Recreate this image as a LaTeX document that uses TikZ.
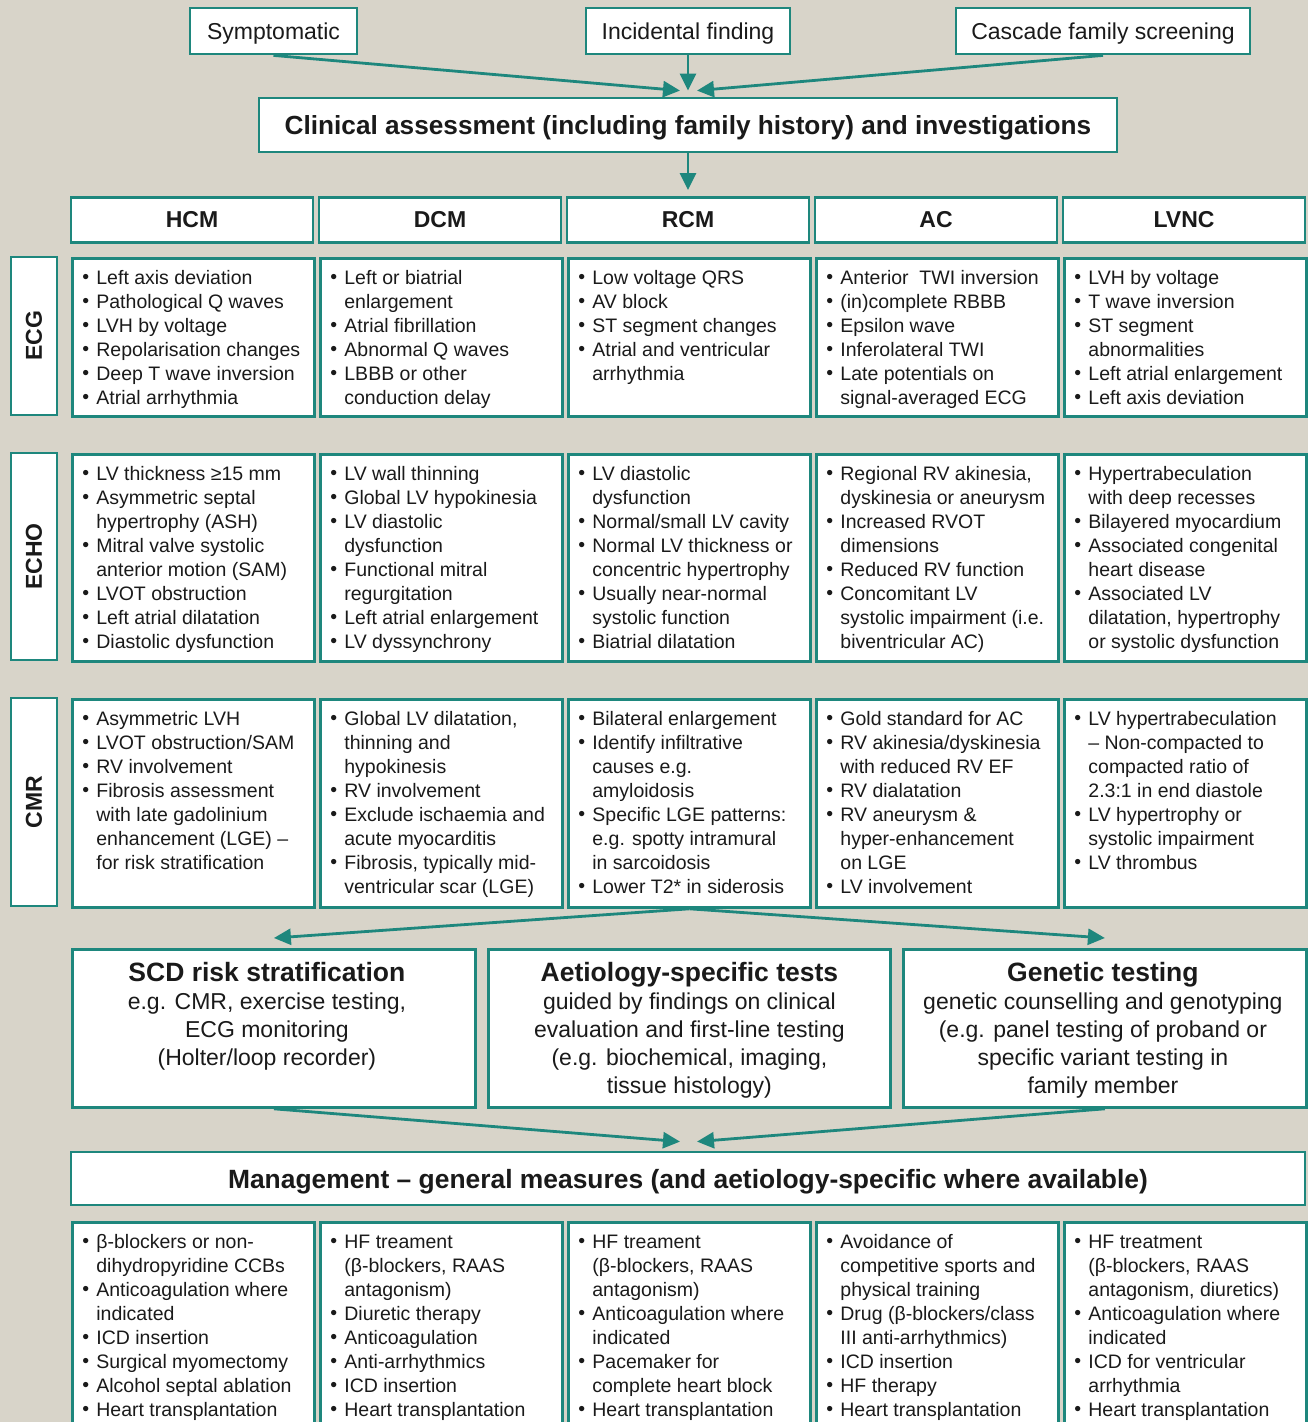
\documentclass[tikz,border=0pt]{standalone}
\usepackage{fontspec}
\setmainfont{Liberation Sans}
\usetikzlibrary{arrows.meta,calc}
\definecolor{bgc}{HTML}{D8D4C9}
\definecolor{tealc}{HTML}{1E877D}
\definecolor{ink}{HTML}{1A1A1A}
\tikzset{
  cell/.style={draw=tealc, line width=2.8pt, fill=white, inner sep=0pt, text=ink},
  arr/.style={draw=tealc, line width=2.8pt, -{Triangle[length=17pt,width=16pt]}},
  hdr/.style={cell, minimum width=242pt, minimum height=45pt, font=\fontsize{23}{28}\selectfont\bfseries},
  rowlab/.style={cell, rotate=90, minimum height=46pt, font=\fontsize{23}{28}\selectfont\bfseries},
  topbox/.style={cell, minimum height=46pt, text depth=0pt, font=\fontsize{23}{28}\selectfont},
}
\newcommand\lstfont{\fontsize{19.5}{24}\selectfont}
\newcommand\bi{\par\hangindent=14pt\hangafter=1\noindent\makebox[14pt][l]{\strut\raisebox{0.5pt}{•}}}
\newcommand\cb[5]{\node[cell, anchor=north west, minimum width=242pt, minimum height=#4pt] (#1) at (#2,#3)
  {\parbox[c][#4pt][t]{242pt}{\lstfont\leftskip=10pt\rightskip=0pt plus 1fil\parindent=0pt\parskip=0pt\vspace*{9.2pt}#5\par}};}
\newcommand\bb[6]{\node[cell, anchor=north west, minimum width=#3pt, minimum height=158pt] (#1) at (#2,948)
  {\parbox[c][158pt][t]{#3pt}{\fontsize{23}{28}\selectfont\centering\leftskip=0pt plus 1fil\rightskip=#6pt plus 1fil\vspace*{12.4pt}{\fontsize{26.5}{28}\selectfont\bfseries\strut #4}\\#5\par}};}
\begin{document}
\begin{tikzpicture}[x=1pt,y=-1pt]
\useasboundingbox (0,0) rectangle (1308,1422);
\clip (0,0) rectangle (1308,1422);
\fill[bgc] (0,0) rectangle (1308,1422);

% top boxes
\node[topbox, minimum width=167pt] (sym) at (273.5,31) {Symptomatic};
\node[topbox, minimum width=204pt] (inc) at (688,31) {Incidental finding};
\node[topbox, minimum width=294pt] (cas) at (1103,31) {Cascade family screening};
\node[cell, minimum width=858pt, minimum height=54pt, text depth=0pt, font=\fontsize{26.2}{30}\selectfont\bfseries] (clin) at (688,125)
  {Clinical assessment (including family history) and investigations};

\coordinate (c1) at ($(clin.north)+(-8,-6)$);
\coordinate (c2) at ($(clin.north)+(0,-6)$);
\coordinate (c3) at ($(clin.north)+(9,-6)$);
\draw[arr] (sym.south) -- (c1);
\draw[arr] (inc.south) -- (c2);
\draw[arr] (cas.south) -- (c3);

% headers
\node[hdr] (hcm) at (192,220) {HCM};
\node[hdr] (dcm) at (440,220) {DCM};
\node[hdr] (rcm) at (688,220) {RCM};
\node[hdr] (ac) at (936,220) {AC};
\node[hdr] (lvnc) at (1184,220) {LVNC};
\coordinate (c4) at ($(rcm.north)+(0,-6)$);
\draw[arr] (clin.south) -- (c4);

% row labels
\node[rowlab, minimum width=158pt] (ecg) at (34,336) {ECG};
\node[rowlab, minimum width=207pt] (echo) at (34,556.5) {ECHO};
\node[rowlab, minimum width=208pt] (cmr) at (34,802) {CMR};

% ECG row
\cb{hcm1}{71}{257}{158}{\bi Left axis deviation\bi Pathological Q waves\bi LVH by voltage\bi Repolarisation changes\bi Deep T wave inversion\bi Atrial arrhythmia}
\cb{dcm1}{319}{257}{158}{\bi Left or biatrial\\enlargement\bi Atrial fibrillation\bi Abnormal Q waves\bi LBBB or other\\conduction delay}
\cb{rcm1}{567}{257}{158}{\bi Low voltage QRS\bi AV block\bi ST segment changes\bi Atrial and ventricular\\arrhythmia}
\cb{ac1}{815}{257}{158}{\bi Anterior\ \ TWI inversion\bi (in)complete RBBB\bi Epsilon wave\bi Inferolateral TWI\bi Late potentials on\\signal-averaged ECG}
\cb{lvnc1}{1063}{257}{158}{\bi LVH by voltage\bi T wave inversion\bi ST segment\\abnormalities\bi Left atrial enlargement\bi Left axis deviation}

% ECHO row
\cb{hcm2}{71}{453}{207}{\bi LV thickness ≥15 mm\bi Asymmetric septal\\hypertrophy (ASH)\bi Mitral valve systolic\\anterior motion (SAM)\bi LVOT obstruction\bi Left atrial dilatation\bi Diastolic dysfunction}
\cb{dcm2}{319}{453}{207}{\bi LV wall thinning\bi Global LV hypokinesia\bi LV diastolic\\dysfunction\bi Functional mitral\\regurgitation\bi Left atrial enlargement\bi LV dyssynchrony}
\cb{rcm2}{567}{453}{207}{\bi LV diastolic\\dysfunction\bi Normal/small LV cavity\bi Normal LV thickness or\\concentric hypertrophy\bi Usually near-normal\\systolic function\bi Biatrial dilatation}
\cb{ac2}{815}{453}{207}{\bi Regional RV akinesia,\\dyskinesia or aneurysm\bi Increased RVOT\\dimensions\bi Reduced RV function\bi Concomitant LV\\systolic impairment (i.e.\\biventricular AC)}
\cb{lvnc2}{1063}{453}{207}{\bi Hypertrabeculation\\with deep recesses\bi Bilayered myocardium\bi Associated congenital\\heart disease\bi Associated LV\\dilatation, hypertrophy\\or systolic dysfunction}

% CMR row
\cb{hcm3}{71}{698}{208}{\bi Asymmetric LVH\bi LVOT obstruction/SAM\bi RV involvement\bi Fibrosis assessment\\with late gadolinium\\enhancement (LGE) –\\for risk stratification}
\cb{dcm3}{319}{698}{208}{\bi Global LV dilatation,\\thinning and\\hypokinesis\bi RV involvement\bi Exclude ischaemia and\\acute myocarditis\bi Fibrosis, typically mid-\\ventricular scar (LGE)}
\cb{rcm3}{567}{698}{208}{\bi Bilateral enlargement\bi Identify infiltrative\\causes e.g.\\amyloidosis\bi Specific LGE patterns:\\e.g. spotty intramural\\in sarcoidosis\bi Lower T2* in siderosis}
\cb{ac3}{815}{698}{208}{\bi Gold standard for AC\bi RV akinesia/dyskinesia\\with reduced RV EF\bi RV dialatation\bi RV aneurysm \&\\hyper-enhancement\\on LGE\bi LV involvement}
\cb{lvnc3}{1063}{698}{208}{\bi LV hypertrabeculation\\– Non-compacted to\\compacted ratio of\\2.3:1 in end diastole\bi LV hypertrophy or\\systolic impairment\bi LV thrombus}

% big boxes
\bb{scd}{71}{403}{SCD risk stratification}{e.g. CMR, exercise testing,\\ECG monitoring\\(Holter/loop recorder)}{14}
\bb{aet}{487}{402}{Aetiology-specific tests}{guided by findings on clinical\\evaluation and first-line testing\\(e.g. biochemical, imaging,\\tissue histology)}{0}
\bb{gen}{902}{403}{Genetic testing}{genetic counselling and genotyping\\(e.g. panel testing of proband or\\specific variant testing in\\family member}{4}

\coordinate (c5) at ($(scd.north)+(0,-10)$);
\coordinate (c6) at ($(gen.north)+(0,-10)$);
\draw[arr] (rcm3.south) -- (c5);
\draw[arr] (rcm3.south) -- (c6);

% management
\node[cell, minimum width=1234pt, minimum height=53pt, text depth=0pt, font=\fontsize{26.4}{30}\selectfont\bfseries] (mgmt) at (688,1178.5)
  {Management – general measures (and aetiology-specific where available)};
\coordinate (c7) at ($(mgmt.north)+(-8,-9)$);
\coordinate (c8) at ($(mgmt.north)+(9,-9)$);
\draw[arr] (scd.south) -- (c7);
\draw[arr] (gen.south) -- (c8);

% management lists
\cb{hcm4}{71}{1221}{220}{\bi β-blockers or non-\\dihydropyridine CCBs\bi Anticoagulation where\\indicated\bi ICD insertion\bi Surgical myomectomy\bi Alcohol septal ablation\bi Heart transplantation}
\cb{dcm4}{319}{1221}{220}{\bi HF treament\\(β-blockers, RAAS\\antagonism)\bi Diuretic therapy\bi Anticoagulation\bi Anti-arrhythmics\bi ICD insertion\bi Heart transplantation}
\cb{rcm4}{567}{1221}{220}{\bi HF treament\\(β-blockers, RAAS\\antagonism)\bi Anticoagulation where\\indicated\bi Pacemaker for\\complete heart block\bi Heart transplantation}
\cb{ac4}{815}{1221}{220}{\bi Avoidance of\\competitive sports and\\physical training\bi Drug (β-blockers/class\\III anti-arrhythmics)\bi ICD insertion\bi HF therapy\bi Heart transplantation}
\cb{lvnc4}{1063}{1221}{220}{\bi HF treatment\\(β-blockers, RAAS\\antagonism, diuretics)\bi Anticoagulation where\\indicated\bi ICD for ventricular\\arrhythmia\bi Heart transplantation}
\end{tikzpicture}
\end{document}
